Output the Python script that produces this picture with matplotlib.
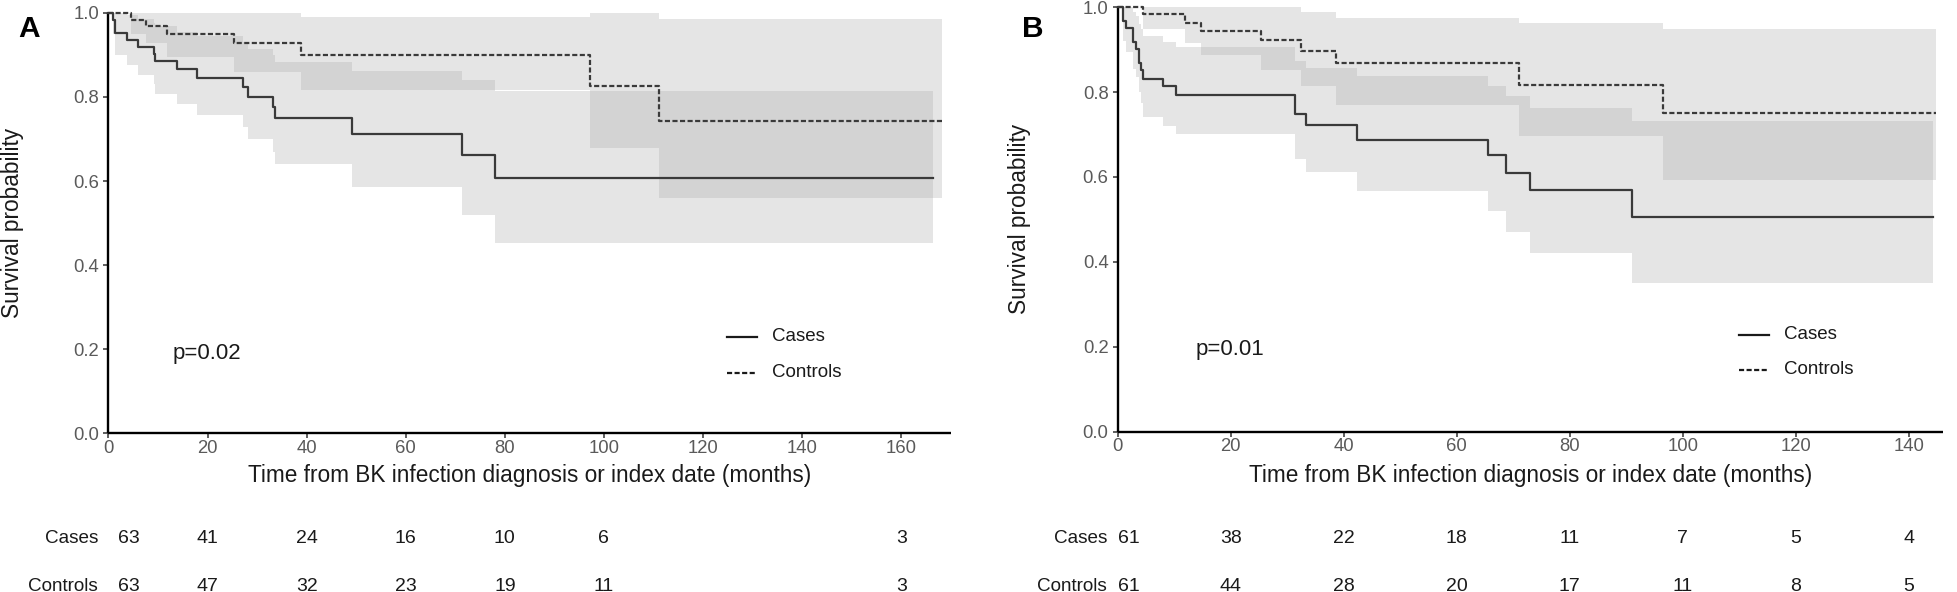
import matplotlib
matplotlib.use('Agg')
import matplotlib.pyplot as plt
import matplotlib.transforms as mtransforms
import numpy as np

plt.rcParams['font.family'] = ['Liberation Sans', 'DejaVu Sans']

# ---------------- Data ----------------
group_names = ['Cases', 'Controls']

# Panel A
A_case_t  = [0, 0.9, 1.4, 3.8, 6.0, 9.2, 9.4, 13.8, 17.8, 27.2, 28.2, 33.3, 33.6, 49.1, 71.4, 78.0, 166.4]
A_case_s  = [1.0, 0.983, 0.952, 0.935, 0.918, 0.902, 0.886, 0.866, 0.846, 0.823, 0.800, 0.776, 0.751, 0.712, 0.662, 0.606, 0.606]
A_case_lo = [1.0, 0.95, 0.899, 0.876, 0.852, 0.83, 0.808, 0.783, 0.757, 0.728, 0.699, 0.67, 0.640, 0.586, 0.519, 0.452, 0.452]
A_case_hi = [1.0, 1.0, 1.0, 0.995, 0.985, 0.975, 0.968, 0.955, 0.945, 0.93, 0.915, 0.90, 0.884, 0.862, 0.840, 0.815, 0.815]

A_ctrl_t  = [0, 4.6, 7.6, 11.8, 25.4, 38.8, 97.1, 111.2, 168.3]
A_ctrl_s  = [1.0, 0.983, 0.968, 0.949, 0.927, 0.899, 0.826, 0.743, 0.743]
A_ctrl_lo = [1.0, 0.95, 0.927, 0.895, 0.860, 0.816, 0.678, 0.559, 0.559]
A_ctrl_hi = [1.0, 1.0, 1.0, 1.0, 1.0, 0.989, 1.0, 0.985, 0.985]

A_risk_times = [0, 20, 40, 60, 80, 100, 160]
A_risk_cases = [63, 41, 24, 16, 10, 6, 3]
A_risk_ctrls = [63, 47, 32, 23, 19, 11, 3]
A_pval = 'p=0.02'
A_xticks = [0, 20, 40, 60, 80, 100, 120, 140, 160]

# Panel B
B_case_t  = [0, 0.9, 1.5, 2.7, 3.2, 3.8, 4.2, 4.5, 8.1, 10.3, 31.4, 33.4, 42.4, 65.5, 68.7, 73.0, 91.0, 144.3]
B_case_s  = [1.0, 0.967, 0.951, 0.918, 0.902, 0.869, 0.852, 0.831, 0.815, 0.794, 0.749, 0.723, 0.688, 0.651, 0.609, 0.570, 0.506, 0.506]
B_case_lo = [1.0, 0.92, 0.895, 0.855, 0.835, 0.80, 0.775, 0.741, 0.721, 0.702, 0.642, 0.611, 0.568, 0.519, 0.471, 0.42, 0.35, 0.35]
B_case_hi = [1.0, 1.0, 1.0, 0.99, 0.98, 0.96, 0.95, 0.932, 0.919, 0.907, 0.874, 0.856, 0.837, 0.815, 0.790, 0.762, 0.733, 0.733]

B_ctrl_t  = [0, 4.5, 11.9, 14.8, 25.3, 32.5, 38.7, 71.0, 96.5, 144.8]
B_ctrl_s  = [1.0, 0.984, 0.964, 0.944, 0.923, 0.898, 0.868, 0.817, 0.752, 0.752]
B_ctrl_lo = [1.0, 0.948, 0.917, 0.888, 0.852, 0.815, 0.770, 0.696, 0.594, 0.594]
B_ctrl_hi = [1.0, 1.0, 1.0, 1.0, 1.0, 0.988, 0.974, 0.962, 0.948, 0.948]

B_risk_times = [0, 20, 40, 60, 80, 100, 120, 140]
B_risk_cases = [61, 38, 22, 18, 11, 7, 5, 4]
B_risk_ctrls = [61, 44, 28, 20, 17, 11, 8, 5]
B_pval = 'p=0.01'
B_xticks = [0, 20, 40, 60, 80, 100, 120, 140]

y_ticks = [0.0, 0.2, 0.4, 0.6, 0.8, 1.0]
x_title = 'Time from BK infection diagnosis or index date (months)'
y_title = 'Survival probability'

# ---------------- Style ----------------
W, H = 1958, 592
fig = plt.figure(figsize=(W / 100, H / 100), dpi=100)

line_col = '#3a3a3a'
band_col = (172 / 255, 172 / 255, 172 / 255)
tick_col = '#5a5a5a'
dash = (0, (2.3, 1.1))


def px2fx(px):
    return px / W


def px2fy(py):
    return 1 - py / H


def panel(rect, xmax, xticks, cases, ctrls, risk_t, risk_c, risk_k, pval,
          pval_pos, leg_x, leg_y, letter, letter_xy, ylab_xy, first_shift_px):
    ax = fig.add_axes(rect)
    ax.set_xlim(0, xmax)
    ax.set_ylim(0, 1.0)

    for (t, s, lo, hi), ls in zip([cases, ctrls], ['-', dash]):
        ax.fill_between(t, lo, hi, step='post', color=band_col, alpha=0.3,
                        linewidth=0, zorder=1)
    for (t, s, lo, hi), ls in zip([cases, ctrls], ['-', dash]):
        ax.step(t, s, where='post', color=line_col, lw=1.6, linestyle=ls,
                zorder=3, clip_on=False)

    for sp in ['top', 'right']:
        ax.spines[sp].set_visible(False)
    for sp in ['left', 'bottom']:
        ax.spines[sp].set_linewidth(1.7)
        ax.spines[sp].set_color('black')
        ax.spines[sp].set_capstyle('butt')

    ax.set_xticks(xticks)
    ax.set_xticklabels([str(v) for v in xticks])
    ax.set_yticks(y_ticks)
    ax.set_yticklabels(['%.1f' % v for v in y_ticks])
    ax.tick_params(axis='both', direction='out', length=3.8, width=1.1,
                   color='#333333', labelcolor=tick_col, labelsize=13.3)
    ax.tick_params(axis='x', pad=1.2)
    ax.tick_params(axis='y', pad=2.8)

    # p-value
    ax.text(pval_pos[0], pval_pos[1], pval, fontsize=16, color='#1a1a1a',
            ha='left', va='baseline')

    # legend (manual)
    for name, ly, ls in zip(group_names, leg_y, ['-', dash]):
        ax.plot([leg_x[0], leg_x[1]], [ly, ly], color='#1a1a1a', lw=1.6,
                linestyle=ls, clip_on=False)
        ax.text(leg_x[2], ly, name, fontsize=13.5, color='#1a1a1a',
                ha='left', va='center')

    # axis titles
    cx = rect[0] + rect[2] / 2
    fig.text(cx, px2fy(482.3), x_title, fontsize=16.3, color='#1a1a1a',
             ha='center', va='baseline')
    fig.text(ylab_xy[0], ylab_xy[1], y_title, fontsize=16.3, color='#1a1a1a',
             rotation=90, ha='center', va='center')

    # panel letter
    fig.text(letter_xy[0], letter_xy[1], letter, fontsize=21.5,
             fontweight='bold', ha='center', va='center', color='black')

    # risk table
    trans = mtransforms.blended_transform_factory(ax.transData, fig.transFigure)
    row_y = [px2fy(542.7), px2fy(590.7)]
    for name, vals, ry in zip(group_names, [risk_c, risk_k], row_y):
        off = mtransforms.offset_copy(trans, fig=fig, x=-10.5 * 0.72, units='points')
        ax.text(0, ry, name, transform=off, fontsize=13.6, color='#1a1a1a',
                ha='right', va='baseline', clip_on=False)
        for i, (tt, v) in enumerate(zip(risk_t, vals)):
            if i == 0:
                tr = mtransforms.offset_copy(trans, fig=fig,
                                             x=first_shift_px * 0.72, units='points')
            else:
                tr = trans
            ax.text(tt, ry, str(v), transform=tr, fontsize=14, color='#1a1a1a',
                    ha='center', va='baseline', clip_on=False)
    return ax


rectA = [px2fx(108.5), px2fy(433.3), px2fx(950.7) - px2fx(108.5), (433.3 - 12.8) / H]
rectB = [px2fx(1117.7), px2fy(431.5), 146 * 5.65 / W, (431.5 - 7.3) / H]

panel(rectA, 170, A_xticks,
      (A_case_t, A_case_s, A_case_lo, A_case_hi),
      (A_ctrl_t, A_ctrl_s, A_ctrl_lo, A_ctrl_hi),
      A_risk_times, A_risk_cases, A_risk_ctrls, A_pval,
      (13.0, 0.176), (124.8, 130.9, 133.9), (0.2297, 0.144),
      'A', (px2fx(28.7), px2fy(29.3)), (px2fx(12.7), px2fy(223)), 20.5)

panel(rectB, 146, B_xticks,
      (B_case_t, B_case_s, B_case_lo, B_case_hi),
      (B_ctrl_t, B_ctrl_s, B_ctrl_lo, B_ctrl_hi),
      B_risk_times, B_risk_cases, B_risk_ctrls, B_pval,
      (13.8, 0.180), (110.0, 115.3, 117.9), (0.2275, 0.145),
      'B', (px2fx(1033), px2fy(29.3)), (px2fx(1020), px2fy(219.4)), 11.3)

fig.savefig('out.png', dpi=100)
